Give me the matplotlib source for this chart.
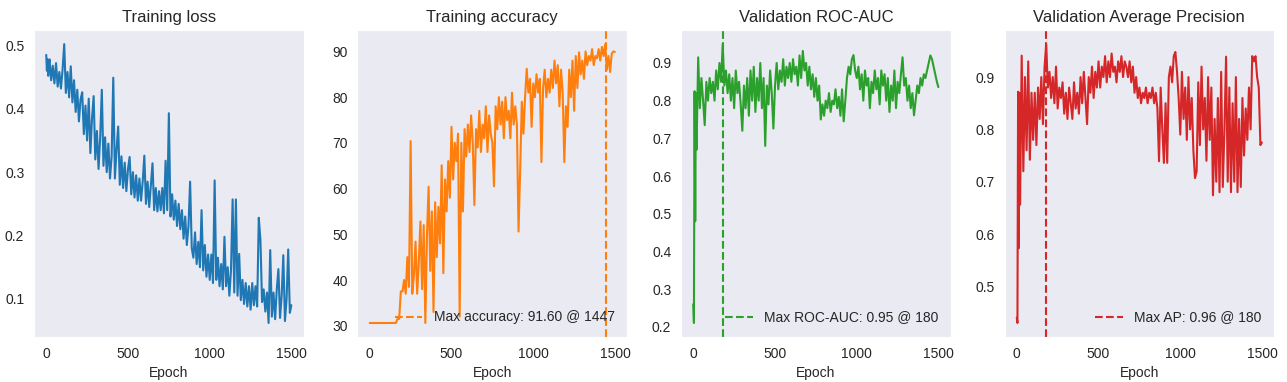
import matplotlib
matplotlib.use("Agg")
import matplotlib.pyplot as plt
import numpy as np
import seaborn as sns

# epochs sampled from the curves (finer at the very start)
epochs = np.r_[0, 4, 8, 12, 16, np.arange(20, 1500, 10), 1499]

train_loss = [
    0.485, 0.46, 0.478, 0.452, 0.47,
    0.478, 0.445, 0.468, 0.44, 0.472, 0.435, 0.458, 0.432,
    0.462, 0.502, 0.425, 0.458, 0.418, 0.467, 0.41, 0.445, 0.395, 0.43,
    0.38, 0.415, 0.426, 0.36, 0.405, 0.35, 0.416, 0.33, 0.385, 0.42,
    0.32, 0.365, 0.305, 0.355, 0.43, 0.31, 0.355, 0.30, 0.345, 0.29,
    0.325, 0.449, 0.29, 0.335, 0.372, 0.28, 0.325, 0.275, 0.315, 0.27,
    0.305, 0.324, 0.265, 0.30, 0.26, 0.295, 0.255, 0.29, 0.255, 0.285,
    0.326, 0.25, 0.285, 0.245, 0.28, 0.314, 0.24, 0.275, 0.238, 0.27,
    0.24, 0.275, 0.235, 0.318, 0.24, 0.393, 0.23, 0.265, 0.225, 0.255,
    0.215, 0.25, 0.21, 0.24, 0.195, 0.23, 0.185, 0.215, 0.285, 0.18,
    0.165, 0.205, 0.155, 0.19, 0.15, 0.24, 0.145, 0.185, 0.135, 0.17,
    0.13, 0.17, 0.125, 0.287, 0.13, 0.165, 0.12, 0.155, 0.115, 0.198,
    0.12, 0.15, 0.105, 0.145, 0.257, 0.11, 0.257, 0.105, 0.171, 0.098,
    0.13, 0.092, 0.125, 0.088, 0.12, 0.083, 0.125, 0.09, 0.12, 0.088,
    0.228, 0.193, 0.095, 0.115, 0.08, 0.11, 0.062, 0.177, 0.072, 0.11,
    0.068, 0.115, 0.147, 0.07, 0.105, 0.169, 0.065, 0.10, 0.178, 0.078,
    0.09,
]

train_acc = [
    30.6, 30.6, 30.6, 30.6, 30.6,
    30.6, 30.6, 30.6, 30.6, 30.6, 30.6, 30.6, 30.6,
    30.6, 30.6, 30.6, 30.6, 30.6, 30.6, 30.6, 31.5, 31.5, 37.5,
    37.5, 40, 37, 45, 38.5, 70.4, 37, 41, 48.4, 37,
    44, 52.8, 38, 52, 30.6, 50, 60.4, 42, 55, 33,
    57, 45, 56, 48, 65.1, 41.5, 62, 55, 66, 58,
    73.5, 62, 70, 66, 72, 32, 70, 55, 73, 67,
    74, 68, 76, 70, 56.4, 73, 69, 77, 68, 74,
    71, 78, 68, 76, 72, 70, 60.5, 78, 73, 80,
    74, 79, 71, 80, 75, 77, 71, 81, 74, 78,
    74, 50.6, 64, 79, 72, 80, 86.2, 81, 84, 73.5,
    83, 80, 85, 81, 84, 65.8, 82, 86, 80, 84,
    81, 86, 82, 88, 83, 87, 78, 86, 81, 65.8,
    78, 73.5, 86, 80, 88, 77, 89, 82, 89.8, 85,
    88, 84, 90, 87, 89, 88, 90.5, 87, 89, 88.5,
    90.5, 88, 91, 89, 91.6, 86, 89, 85.5, 89.5, 90,
    89.9,
]

val_auc = [
    0.26, 0.21, 0.825, 0.48, 0.82,
    0.67, 0.915, 0.78, 0.86, 0.80, 0.735, 0.85, 0.80,
    0.86, 0.82, 0.85, 0.80, 0.88, 0.83, 0.90, 0.85, 0.95, 0.84,
    0.88, 0.82, 0.87, 0.80, 0.86, 0.78, 0.88, 0.82, 0.85, 0.79,
    0.72, 0.84, 0.78, 0.86, 0.76, 0.88, 0.80, 0.89, 0.77, 0.86,
    0.80, 0.90, 0.78, 0.86, 0.68, 0.84, 0.79, 0.88, 0.82, 0.726,
    0.84, 0.90, 0.83, 0.88, 0.85, 0.91, 0.84, 0.89, 0.86, 0.90,
    0.85, 0.91, 0.87, 0.89, 0.84, 0.92, 0.86, 0.932, 0.88, 0.90,
    0.84, 0.89, 0.83, 0.87, 0.81, 0.86, 0.80, 0.84, 0.75, 0.79,
    0.76, 0.80, 0.78, 0.82, 0.77, 0.80, 0.79, 0.83, 0.78, 0.81,
    0.76, 0.83, 0.745, 0.80, 0.86, 0.89, 0.87, 0.91, 0.921, 0.88,
    0.86, 0.89, 0.83, 0.87, 0.80, 0.88, 0.84, 0.86, 0.78, 0.85,
    0.82, 0.88, 0.83, 0.86, 0.79, 0.88, 0.84, 0.87, 0.80, 0.86,
    0.77, 0.84, 0.80, 0.88, 0.78, 0.85, 0.82, 0.87, 0.915, 0.84,
    0.86, 0.80, 0.84, 0.78, 0.82, 0.761, 0.80, 0.84, 0.82, 0.86,
    0.84, 0.87, 0.86, 0.88, 0.90, 0.92, 0.91, 0.89, 0.87, 0.85,
    0.836,
]

val_ap = [
    0.44, 0.43, 0.872, 0.573, 0.87,
    0.656, 0.941, 0.72, 0.90, 0.76, 0.93, 0.742, 0.87,
    0.78, 0.87, 0.77, 0.88, 0.82, 0.90, 0.81, 0.92, 0.963, 0.88,
    0.91, 0.86, 0.90, 0.85, 0.92, 0.84, 0.88, 0.86, 0.89, 0.83,
    0.87, 0.82, 0.88, 0.85, 0.82, 0.89, 0.84, 0.87, 0.83, 0.90,
    0.85, 0.91, 0.86, 0.81, 0.90, 0.87, 0.92, 0.86, 0.91, 0.88,
    0.93, 0.88, 0.92, 0.90, 0.94, 0.89, 0.93, 0.90, 0.945, 0.91,
    0.92, 0.89, 0.93, 0.91, 0.94, 0.90, 0.93, 0.92, 0.90, 0.93,
    0.89, 0.92, 0.87, 0.90, 0.86, 0.88, 0.85, 0.87, 0.86, 0.88,
    0.85, 0.87, 0.86, 0.88, 0.85, 0.87, 0.84, 0.739, 0.88, 0.80,
    0.736, 0.85, 0.736, 0.90, 0.92, 0.89, 0.94, 0.948, 0.91, 0.86,
    0.79, 0.91, 0.82, 0.88, 0.78, 0.90, 0.80, 0.86, 0.76, 0.707,
    0.72, 0.89, 0.77, 0.92, 0.80, 0.86, 0.74, 0.90, 0.78, 0.88,
    0.674, 0.82, 0.70, 0.86, 0.68, 0.91, 0.69, 0.80, 0.939, 0.70,
    0.88, 0.68, 0.85, 0.70, 0.90, 0.68, 0.82, 0.69, 0.86, 0.75,
    0.84, 0.78, 0.88, 0.80, 0.94, 0.93, 0.94, 0.90, 0.88, 0.77,
    0.775,
]

# best-epoch markers as reported in the legends
best_acc_epoch, best_acc = 1447, 91.60
best_auc_epoch, best_auc = 180, 0.95
best_ap_epoch, best_ap = 180, 0.96

sns.set_style("dark")
plt.rcParams["font.family"] = ["Liberation Sans", "DejaVu Sans"]

fig, axes = plt.subplots(1, 4, figsize=(12.87, 3.82), dpi=100)
fig.subplots_adjust(left=0.0264, right=0.990, top=0.921, bottom=0.118, wspace=0.2)

ax = axes[0]
ax.plot(epochs, train_loss, color="tab:blue")
ax.set_title("Training loss")

ax = axes[1]
ax.plot(epochs, train_acc, color="tab:orange")
ax.axvline(best_acc_epoch, color="tab:orange", linestyle="--",
           label=f"Max accuracy: {best_acc:.2f} @ {best_acc_epoch}")
ax.set_title("Training accuracy")

ax = axes[2]
ax.plot(epochs, val_auc, color="tab:green")
ax.axvline(best_auc_epoch, color="tab:green", linestyle="--",
           label=f"Max ROC-AUC: {best_auc:.2f} @ {best_auc_epoch}")
ax.set_title("Validation ROC-AUC")

ax = axes[3]
ax.plot(epochs, val_ap, color="tab:red")
ax.axvline(best_ap_epoch, color="tab:red", linestyle="--",
           label=f"Max AP: {best_ap:.2f} @ {best_ap_epoch}")
ax.set_title("Validation Average Precision")

for ax in axes:
    ax.set_xlabel("Epoch")
    ax.set_xticks([0, 500, 1000, 1500])
for ax in axes[1:]:
    ax.legend(loc="lower right", frameon=False)

fig.savefig("out.png", dpi=100)
